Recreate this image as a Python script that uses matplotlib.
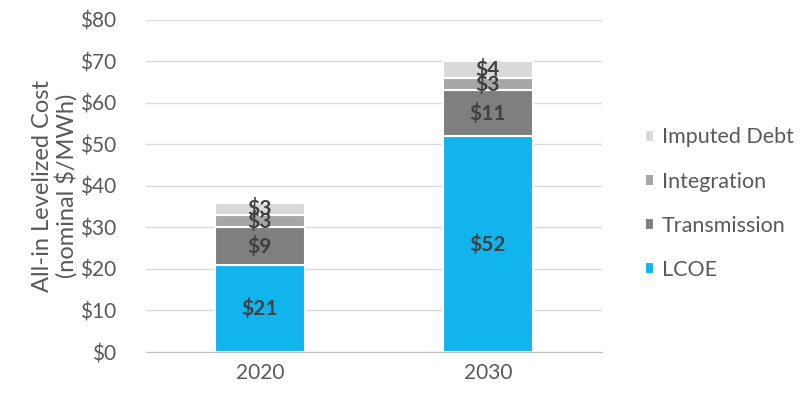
import numpy as np
import matplotlib.pyplot as plt

## cost components [nominal $/MWh]
years = ['2020', '2030']
lcoe = [21, 52]
transmission = [9, 11]
integration = [3, 3]
imputed_debt = [3, 4]

series = [('LCOE', lcoe, '#12b4ee'),
          ('Transmission', transmission, '#7f7f7f'),
          ('Integration', integration, '#a6a6a6'),
          ('Imputed Debt', imputed_debt, '#d9d9d9')]

plt.rcParams['font.family'] = ['Lato', 'DejaVu Sans']
txtc = '#595959'

fig = plt.figure(figsize=(8.10, 3.93), dpi=100)
ax = fig.add_axes([0.180, 0.1043, 0.563, 0.845])

x = np.arange(len(years))
bottom = np.zeros(len(years))
handles = []
for name, vals, col in series:
    vals = np.array(vals, dtype=float)
    b = ax.bar(x, vals, 0.395, bottom=bottom, color=col, edgecolor='white',
               linewidth=1.5, label=name, zorder=3)
    handles.append(b)
    for xi, v, b0 in zip(x, vals, bottom):
        ax.text(xi, b0 + v/2, '$%d' % v, ha='center', va='center',
                fontsize=15, fontweight='bold', color='#404040', zorder=4)
    bottom += vals

ax.set_xlim(-0.5, 1.5)
ax.set_ylim(0, 80)
ax.set_yticks(np.arange(0, 81, 10))
ax.set_yticklabels(['$%d' % v for v in range(0, 81, 10)])
ax.set_xticks(x)
ax.set_xticklabels(years)
ax.tick_params(axis='both', length=0, labelsize=15, colors=txtc)
ax.tick_params(axis='y', pad=21)
ax.tick_params(axis='x', pad=8)
ax.grid(axis='y', color='#d9d9d9', linewidth=1, zorder=0)
for s in ['top', 'right', 'left']:
    ax.spines[s].set_visible(False)
ax.spines['bottom'].set_color('#bfbfbf')

ax.set_ylabel('All-in Levelized Cost\n(nominal $/MWh)', fontsize=17,
              color=txtc, labelpad=2, linespacing=1.1)

leg = fig.legend(handles[::-1], [s[0] for s in series][::-1],
                 loc='center left', bbox_to_anchor=(0.772, 0.482),
                 frameon=False, fontsize=15.5, labelcolor=txtc,
                 handlelength=0.45, handleheight=0.45, handletextpad=0.35,
                 labelspacing=1.12)

fig.savefig('out.png', dpi=100)
